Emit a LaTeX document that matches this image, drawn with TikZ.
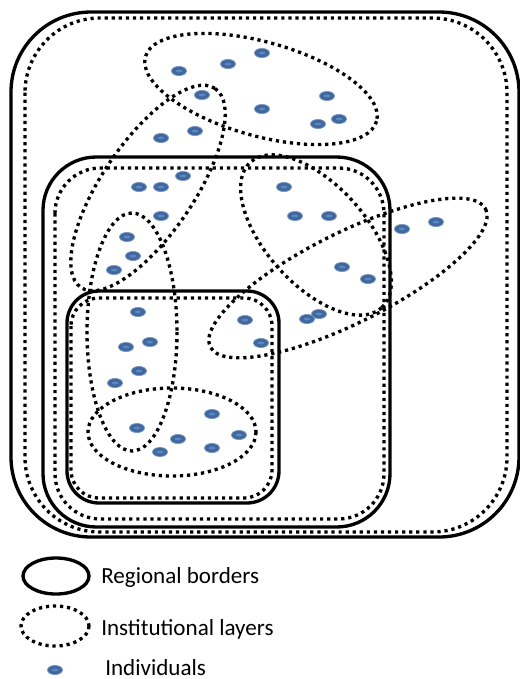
\documentclass[tikz,border=0pt]{standalone}
\usepackage{fontspec}
\setmainfont{Carlito}
\definecolor{dotblue}{RGB}{63,104,160}
\definecolor{dotrim}{RGB}{120,150,192}
\definecolor{dotlight}{RGB}{96,134,186}

\begin{document}
\begin{tikzpicture}[x=0.75pt, y=-0.75pt,
  border/.style={line width=2.5pt},
  layer/.style={line width=2.5pt, dash pattern=on 2.4pt off 2.9pt},
  person/.style={fill=dotblue, draw=dotrim, line width=0.5pt},
  legendtext/.style={anchor=base west, inner sep=0pt, font=\fontsize{17.3}{20}\selectfont}]

\useasboundingbox (0,0) rectangle (520,679);

%centres of the institutional layers
\coordinate (top) at (261,89);
\coordinate (diag) at (148,188);
\coordinate (east) at (316,235);
\coordinate (wing) at (348,278);
\coordinate (west) at (132,332);
\coordinate (south) at (172,432);

% regional borders
\draw[border, rounded corners=60pt] (11,12) rectangle (519,537);
\draw[border, rounded corners=40pt] (43,157) rectangle (390,527);
\draw[border, rounded corners=24pt] (67,291) rectangle (279,503);

% institutional layers along the borders
\draw[layer, rounded corners=56pt] (25,18) rectangle (507,532);
\draw[layer, rounded corners=34pt] (55,168) rectangle (384,519);
\draw[layer, rounded corners=21pt] (71,298) rectangle (272,498);

% institutional layers across the borders
\draw[layer, rotate around={-15.6:(top)}] (top) ellipse[x radius=120, y radius=47];
\draw[layer, rotate around={56:(diag)}] (diag) ellipse[x radius=120, y radius=46];
\draw[layer, rotate around={-48:(east)}] (east) ellipse[x radius=98, y radius=50];
\draw[layer, rotate around={26.6:(wing)}] (wing) ellipse[x radius=154, y radius=45];
\draw[layer] (west) ellipse[x radius=45, y radius=119];
\draw[layer] (south) ellipse[x radius=84, y radius=44];

% individuals
\foreach \x/\y in {262/53, 228/64, 179/71, 202/95, 327/96, 262/109, 339/119, 318/124,
  195/131, 161/138, 183/176, 139/187, 161/187, 284/187, 161/216, 295/216, 329/216,
  436/222, 402/229, 127/237, 133/256, 114/270, 342/267, 368/279,
  138/312, 245/320, 319/314, 307/319, 150/342, 126/347, 261/343, 139/371, 115/383,
  212/414, 137/428, 239/435, 178/439, 160/452, 212/448}
{
  \filldraw[person] (\x,\y) ellipse[x radius=7.5, y radius=4.6];
  \fill[dotlight] (\x,\y) ellipse[x radius=3.5, y radius=1.4];
}

% legend
\draw[border] (56,576) ellipse[x radius=33, y radius=18];
\node[legendtext] (regional) at (101,583) {Regional borders};
\draw[layer] (55,626) ellipse[x radius=34, y radius=20];
\node[legendtext] (institutional) at (101,635) {Institutional layers};
\filldraw[person] (55,670) ellipse[x radius=7.5, y radius=4.6];
\fill[dotlight] (55,670) ellipse[x radius=3.5, y radius=1.4];
\node[legendtext] (individuals) at (105,675) {Individuals};

\end{tikzpicture}
\end{document}
